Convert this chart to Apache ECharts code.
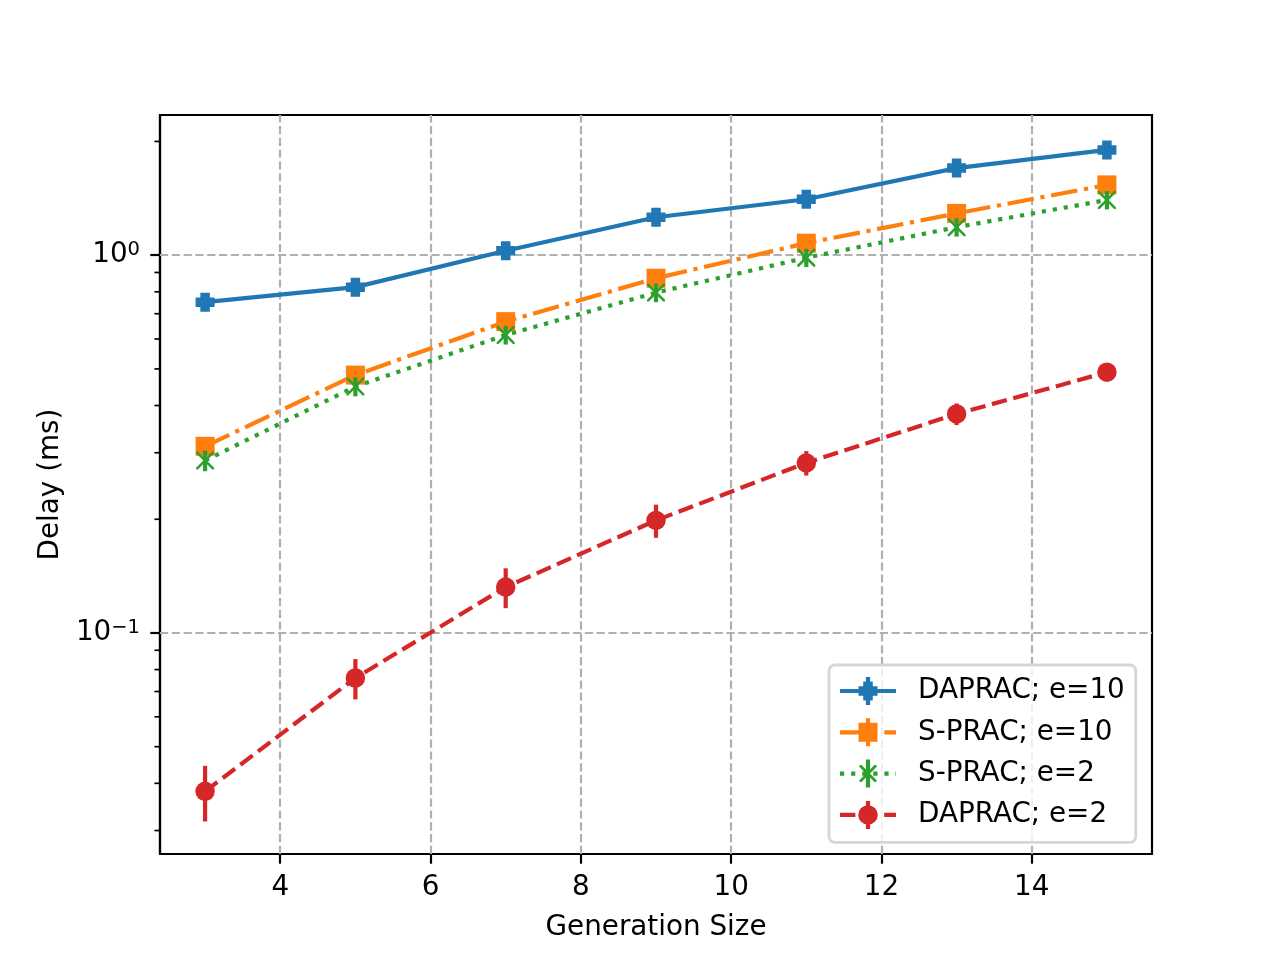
<!DOCTYPE html>
<html>
<head>
<meta charset="UTF-8">
<title>Delay vs Generation Size</title>
<script src="https://cdn.jsdelivr.net/npm/echarts@6/dist/echarts.min.js"></script>
<style>
    html, body { margin: 0; padding: 0; background: #fff; }
    #main { width: 1280px; height: 960px; }
</style>
</head>
<body>
<div id="main"></div>
<script type="text/javascript">
    // data
    var genSize = [3, 5, 7, 9, 11, 13, 15];

    var dapracE10 = [0.751, 0.823, 1.027, 1.26, 1.406, 1.70, 1.90];
    var dapracE10Err = [0.02, 0.02, 0.02, 0.02, 0.02, 0.02, 0.02];

    var spracE10 = [0.312, 0.4815, 0.667, 0.869, 1.076, 1.29, 1.535];
    var spracE10Err = [0.012, 0.012, 0.015, 0.015, 0.02, 0.02, 0.02];

    var spracE2 = [0.286, 0.449, 0.615, 0.796, 0.985, 1.186, 1.40];
    var spracE2Err = [0.018, 0.026, 0.035, 0.045, 0.055, 0.066, 0.078];

    var dapracE2 = [0.0381, 0.076, 0.1323, 0.1986, 0.282, 0.380, 0.490];
    var dapracE2Err = [0.0064, 0.0093, 0.016, 0.020, 0.021, 0.025, 0.02];

    var xTicks = [4, 6, 8, 10, 12, 14];
    var yTicks = [0.1, 1];
    var yMinorTicks = [0.03, 0.04, 0.05, 0.06, 0.07, 0.08, 0.09,
                       0.2, 0.3, 0.4, 0.5, 0.6, 0.7, 0.8, 0.9, 2];
    var xRange = [2.4, 15.6];
    var yRange = [0.026, 2.35];

    var FONT = 'DejaVu Sans';
    var plusPath = 'path://M-1,-2L1,-2L1,-1L2,-1L2,1L1,1L1,2L-1,2L-1,1L-2,1L-2,-1L-1,-1Z';
    var crossPath = 'path://M2,0L20,18L20,20L18,20L0,2L0,0Z M18,0L20,0L20,2L2,20L0,20L0,18Z';

    var DASHED = [15.4, 6.7], DASHDOT = [26.7, 6.7, 4.2, 6.7], DOTTED = [4.2, 6.9];

    // ---- legend handles: line + marker + error bar, as one filled path (56 x 28 box)
    function rect(x, y, w, h) {
        return 'M' + x + ',' + y + 'h' + w + 'v' + h + 'h' + (-w) + 'Z';
    }
    function handleLine(pattern) {
        if (!pattern) return rect(0, 11.9, 56, 4.2);
        var out = [], pos = 0, i = 0;
        while (pos < 56) {
            var seg = pattern[i % pattern.length];
            if (i % 2 === 0) out.push(rect(pos, 11.9, Math.min(seg, 56 - pos), 4.2));
            pos += seg; i++;
        }
        return out.join(' ');
    }
    function crossShape(cx, cy, s, d) {
        var a = cx - s / 2, b = cy - s / 2, e = s;
        return 'M' + (a + d) + ',' + b + 'L' + (a + e) + ',' + (b + e - d) + 'L' + (a + e) + ',' + (b + e) +
            'L' + (a + e - d) + ',' + (b + e) + 'L' + a + ',' + (b + d) + 'L' + a + ',' + b + 'Z ' +
            'M' + (a + e - d) + ',' + b + 'L' + (a + e) + ',' + b + 'L' + (a + e) + ',' + (b + d) +
            'L' + (a + d) + ',' + (b + e) + 'L' + a + ',' + (b + e) + 'L' + a + ',' + (b + e - d) + 'Z';
    }
    var errBarIcon = rect(25.9, 0, 4.2, 28);
    var legendIcons = {
        plus: 'path://' + [handleLine(null), rect(18.5, 9.25, 19, 9.5), rect(23.25, 4.5, 9.5, 19), errBarIcon].join(' '),
        square: 'path://' + [handleLine(DASHDOT), rect(18.5, 4.5, 19, 19), errBarIcon].join(' '),
        cross: 'path://' + [handleLine(DOTTED), crossShape(28, 14, 17, 2), errBarIcon].join(' '),
        circle: 'path://' + [handleLine(DASHED), 'M18.25,14A9.75,9.75,0,1,1,37.75,14A9.75,9.75,0,1,1,18.25,14Z', errBarIcon].join(' ')
    };

    function pairs(vals) {
        return genSize.map(function (x, i) { return [x, vals[i]]; });
    }

    function lineSeries(name, vals, color, symbol, size, dash) {
        return {
            name: name,
            type: 'line',
            data: pairs(vals),
            symbol: symbol,
            symbolSize: size,
            showAllSymbol: true,
            z: 2,
            itemStyle: { color: color },
            lineStyle: { color: color, width: 4.2, type: dash, cap: 'butt' }
        };
    }

    function errSeries(vals, errs, color) {
        return {
            type: 'custom',
            coordinateSystem: 'cartesian2d',
            silent: true,
            clip: false,
            z: 3,
            encode: { x: 0, y: [1, 2] },
            data: genSize.map(function (x, i) { return [x, vals[i] - errs[i], vals[i] + errs[i]]; }),
            renderItem: function (params, api) {
                var p1 = api.coord([api.value(0), api.value(1)]);
                var p2 = api.coord([api.value(0), api.value(2)]);
                return {
                    type: 'line',
                    shape: { x1: p1[0], y1: p1[1], x2: p2[0], y2: p2[1] },
                    style: { stroke: color, lineWidth: 4.2 }
                };
            }
        };
    }

    var blue = lineSeries('DAPRAC; e=10', dapracE10, '#1f77b4', plusPath, 19, 'solid');
    // grid lines drawn under the data
    blue.markLine = {
        silent: true,
        z: 1,
        symbol: ['none', 'none'],
        label: { show: false },
        animation: false,
        lineStyle: { color: '#b0b0b0', width: 2.2, type: [8.2, 3.6] },
        data: xTicks.map(function (v) { return { xAxis: v }; })
            .concat(yTicks.map(function (v) { return { yAxis: v }; }))
    };

    var myChart = echarts.init(document.getElementById('main'));
    var option = {
        animation: false,
        backgroundColor: '#fff',
        grid: {
            left: 160, right: 128, top: 115, bottom: 106,
            show: true, borderColor: '#000', borderWidth: 2.2,
            containLabel: false, outerBoundsMode: 'none'
        },
        legend: {
            orient: 'vertical',
            left: 829, top: 665,
            itemWidth: 56, itemHeight: 28, itemGap: 13.3,
            padding: [12, 11, 13.5, 11],
            backgroundColor: 'rgba(255,255,255,0.8)',
            borderColor: '#d6d6d6', borderWidth: 2.8, borderRadius: 6,
            textStyle: { fontSize: 27.8, color: '#000', fontFamily: FONT, padding: [0, 0, 0, 17] },
            data: [
                { name: 'DAPRAC; e=10', icon: legendIcons.plus },
                { name: 'S-PRAC; e=10', icon: legendIcons.square },
                { name: 'S-PRAC; e=2', icon: legendIcons.cross },
                { name: 'DAPRAC; e=2', icon: legendIcons.circle }
            ]
        },
        xAxis: {
            type: 'value',
            min: xRange[0], max: xRange[1],
            name: 'Generation Size',
            nameLocation: 'middle',
            nameGap: 60,
            nameTextStyle: { fontSize: 27.8, color: '#000', fontFamily: FONT },
            axisLine: { show: true, onZero: false, lineStyle: { color: '#000', width: 2.2 } },
            axisTick: { show: true, customValues: xTicks, length: 9.7, lineStyle: { color: '#000', width: 2.2 } },
            axisLabel: { customValues: xTicks, margin: 20, fontSize: 27.8, color: '#000', fontFamily: FONT },
            splitLine: { show: false }
        },
        yAxis: {
            type: 'log',
            logBase: 10,
            min: yRange[0], max: yRange[1],
            name: 'Delay (ms)',
            nameLocation: 'middle',
            nameGap: 95,
            nameRotate: 90,
            nameTextStyle: { fontSize: 27.8, color: '#000', fontFamily: FONT },
            axisLine: { show: true, lineStyle: { color: '#000', width: 2.2 } },
            axisTick: { show: true, customValues: yTicks, length: 9.7, lineStyle: { color: '#000', width: 2.2 } },
            axisLabel: {
                customValues: yTicks,
                margin: 20,
                color: '#000',
                fontFamily: FONT,
                formatter: function (v) {
                    var e = Math.round(Math.log10(v));
                    return '{b|10}{s|' + (e < 0 ? '\u2212' + (-e) : e) + '}';
                },
                rich: {
                    b: { fontSize: 27.8, fontFamily: FONT, color: '#000' },
                    s: { fontSize: 19.5, fontFamily: FONT, color: '#000', verticalAlign: 'top', padding: [0, 0, 10, 0] }
                }
            },
            splitLine: { show: false }
        },
        series: [
            blue,
            lineSeries('S-PRAC; e=10', spracE10, '#ff7f0e', 'rect', 19, DASHDOT),
            lineSeries('S-PRAC; e=2', spracE2, '#2ca02c', crossPath, 18, DOTTED),
            lineSeries('DAPRAC; e=2', dapracE2, '#d62728', 'circle', 19.5, DASHED),
            errSeries(dapracE10, dapracE10Err, '#1f77b4'),
            errSeries(spracE10, spracE10Err, '#ff7f0e'),
            errSeries(spracE2, spracE2Err, '#2ca02c'),
            errSeries(dapracE2, dapracE2Err, '#d62728'),
            // minor ticks of the log axis
            {
                type: 'custom',
                coordinateSystem: 'cartesian2d',
                silent: true,
                clip: false,
                encode: { x: 0, y: 1 },
                data: yMinorTicks.map(function (v) { return [xRange[0], v]; }),
                renderItem: function (params, api) {
                    var p = api.coord([api.value(0), api.value(1)]);
                    return {
                        type: 'line',
                        shape: { x1: p[0] - 5.6, y1: p[1], x2: p[0], y2: p[1] },
                        style: { stroke: '#000', lineWidth: 1.7 }
                    };
                }
            }
        ]
    };
    myChart.setOption(option);
</script>
</body>
</html>
